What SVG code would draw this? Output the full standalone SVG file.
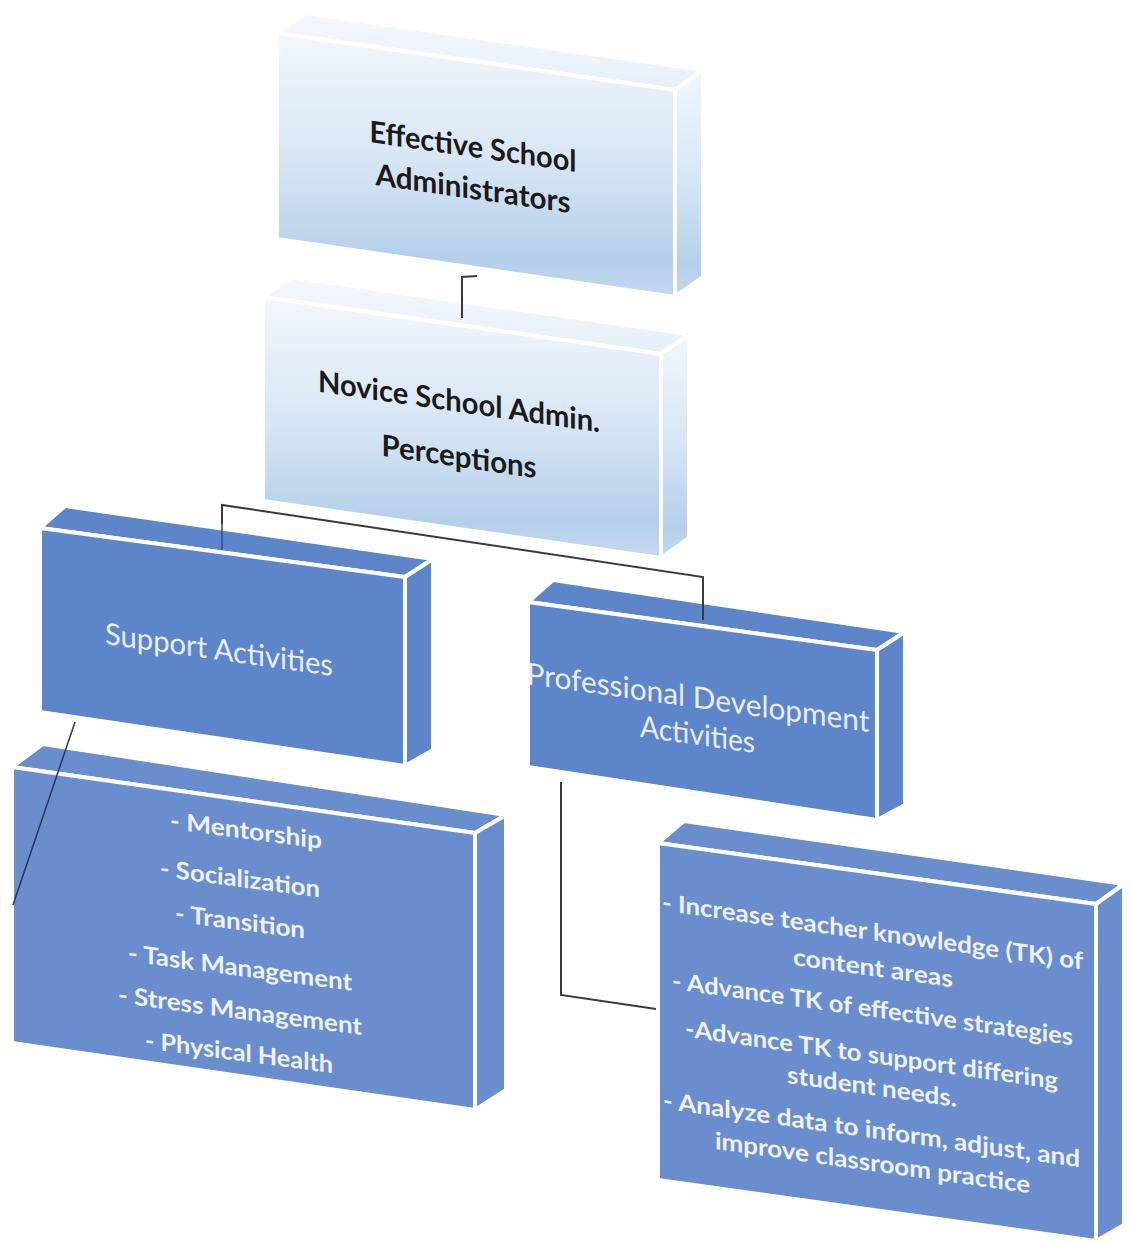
<svg xmlns="http://www.w3.org/2000/svg" width="1131" height="1243" viewBox="0 0 1131 1243">
<defs>
<linearGradient id="lf" x1="0" y1="0" x2="0" y2="1">
<stop offset="0" stop-color="#f3f7fc"/>
<stop offset="0.5" stop-color="#d6e5f4"/>
<stop offset="0.86" stop-color="#b4cfe9"/>
<stop offset="1" stop-color="#c4d9ee"/>
</linearGradient>
<linearGradient id="lt" x1="0" y1="0" x2="0" y2="1">
<stop offset="0" stop-color="#f4f8fd"/>
<stop offset="1" stop-color="#e6eff9"/>
</linearGradient>
<style>
.face{stroke:#ffffff;stroke-width:4;stroke-linejoin:round}
.lf{fill:url(#lf)}
.lt{fill:url(#lt)}
.d1{fill:#5d85c9}
.d2{fill:#6a8dcd}
.tb{font-family:Lato,"Open Sans","Liberation Sans",sans-serif;font-weight:700;fill:#1a1a1a;font-size:30px;text-anchor:middle}
.tw{font-family:Lato,"Open Sans","Liberation Sans",sans-serif;font-weight:400;fill:#e9eef7;font-size:30px;text-anchor:middle}
.tl{font-family:Lato,"Open Sans","Liberation Sans",sans-serif;font-weight:700;fill:#eef2f9;font-size:24px;text-anchor:middle}
.conn{fill:none;stroke:#3a3a3a;stroke-width:2}
</style>
</defs>
<rect width="1131" height="1243" fill="#ffffff"/>

<g id="node-effective">
<polygon class="face lt" points="277,33 305,13 703,70 675,90"/>
<polygon class="face lf" points="675,90 703,70 703,277 675,297"/>
<polygon class="face lf" points="277,33 675,90 675,297 277,239"/>
<g transform="translate(473,0) skewY(8.2)">
<text class="tb" x="0" y="157" textLength="207" lengthAdjust="spacingAndGlyphs">Effective School</text>
<text class="tb" x="0" y="199" textLength="195" lengthAdjust="spacingAndGlyphs">Administrators</text>
</g>
</g>

<g id="node-novice">
<polygon class="face lt" points="263,297 291,277 689,334 661,354"/>
<polygon class="face lf" points="661,354 689,334 689,538 661,558"/>
<polygon class="face lf" points="263,297 661,354 661,558 263,501"/>
<g transform="translate(459,0) skewY(8.2)">
<text class="tb" x="0" y="412" textLength="282" lengthAdjust="spacingAndGlyphs">Novice School Admin.</text>
<text class="tb" x="0" y="467" textLength="155" lengthAdjust="spacingAndGlyphs">Perceptions</text>
</g>
</g>

<g id="node-support">
<polygon class="face d1" points="40,528 65,506 433,559 405,577"/>
<polygon class="face d1" points="405,577 433,559 433,750 405,766"/>
<polygon class="face d1" points="40,528 405,577 405,766 40,712"/>
<g transform="translate(219,0) skewY(8)">
<text class="tw" x="0" y="660" textLength="228" lengthAdjust="spacingAndGlyphs">Support Activities</text>
</g>
</g>

<g id="node-pd">
<polygon class="face d1" points="528,602 553,580 905,632 877,650"/>
<polygon class="face d1" points="877,650 905,632 905,805 877,820"/>
<polygon class="face d1" points="528,602 877,650 877,820 528,767"/>
<g transform="translate(698,0) skewY(8)">
<text class="tw" x="0" y="708" textLength="343" lengthAdjust="spacingAndGlyphs">Professional Development</text>
<text class="tw" x="-0.5" y="745" textLength="115" lengthAdjust="spacingAndGlyphs">Activities</text>
</g>
</g>

<g id="node-support-list">
<polygon class="face d2" points="12,767 43,744 506,815 475,833"/>
<polygon class="face d2" points="475,833 506,815 506,1090 475,1110"/>
<polygon class="face d2" points="12,767 475,833 475,1110 12,1043"/>
<g transform="translate(240,0) skewY(7.5)">
<text class="tl" x="6" y="838" textLength="152" lengthAdjust="spacingAndGlyphs">- Mentorship</text>
<text class="tl" x="0" y="887" textLength="160" lengthAdjust="spacingAndGlyphs">- Socialization</text>
<text class="tl" x="0" y="930" textLength="130" lengthAdjust="spacingAndGlyphs">- Transition</text>
<text class="tl" x="0" y="976" textLength="224" lengthAdjust="spacingAndGlyphs">- Task Management</text>
<text class="tl" x="0" y="1019" textLength="244" lengthAdjust="spacingAndGlyphs">- Stress Management</text>
<text class="tl" x="-1" y="1061" textLength="188" lengthAdjust="spacingAndGlyphs">- Physical Health</text>
</g>
</g>

<g id="node-pd-list">
<polygon class="face d2" points="658,843 684,821 1124,884 1096,904"/>
<polygon class="face d2" points="1096,904 1124,884 1124,1225 1096,1241"/>
<polygon class="face d2" points="658,843 1096,904 1096,1241 658,1180"/>
<g transform="translate(872,0) skewY(8)">
<text class="tl" x="0.5" y="940" textLength="421" lengthAdjust="spacingAndGlyphs">- Increase teacher knowledge (TK) of</text>
<text class="tl" x="1" y="976" textLength="160" lengthAdjust="spacingAndGlyphs">content areas</text>
<text class="tl" x="0.5" y="1017" textLength="401" lengthAdjust="spacingAndGlyphs">- Advance TK of effective strategies</text>
<text class="tl" x="-0.5" y="1063" textLength="373" lengthAdjust="spacingAndGlyphs">-Advance TK to support differing</text>
<text class="tl" x="0" y="1095" textLength="170" lengthAdjust="spacingAndGlyphs">student needs.</text>
<text class="tl" x="-0.5" y="1138" textLength="417" lengthAdjust="spacingAndGlyphs">- Analyze data to inform, adjust, and</text>
<text class="tl" x="0.5" y="1171" textLength="315" lengthAdjust="spacingAndGlyphs">improve classroom practice</text>
</g>
</g>

<g id="connectors">
<path class="conn" d="M477,276 L462,277 L462,318"/>
<path class="conn" d="M222,524 L222,505 L703,577 L703,620"/>
<path d="M222,524 L222,550" fill="none" stroke="#2f4f8a" stroke-width="2" opacity="0.8"/>
<path d="M75,722 L13,905" fill="none" stroke="#2b3550" stroke-width="1.5"/>
<path class="conn" d="M561,782 L561,995 L656,1009"/>
</g>
</svg>
